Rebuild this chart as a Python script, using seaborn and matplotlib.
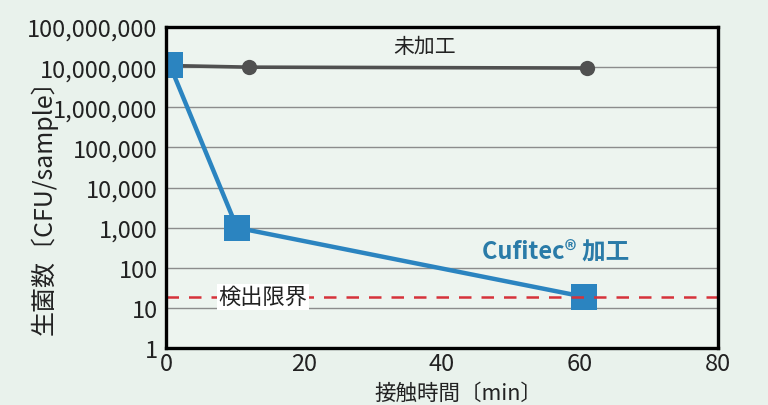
import matplotlib
matplotlib.use("Agg")
import matplotlib.pyplot as plt
import matplotlib.ticker as mticker
import numpy as np
import pandas as pd
import seaborn as sns

# ── データ ─────────────────────────────────────────
tiempo_mikakou = [0, 12, 61]
cfu_mikakou = [1.1e7, 1.0e7, 0.95e7]

tiempo_cufitec = [0.6, 10.3, 60.6]
cfu_cufitec = [1.1e7, 1000, 19]

limite_deteccion = 19
y_ticks = [1, 10, 100, 1000, 10000, 100000, 1000000, 10000000, 100000000]
x_ticks = [0, 20, 40, 60, 80]

# ── スタイル ───────────────────────────────────────
FONDO = "#e9f2ec"
AZUL = "#2b84c0"
AZUL_TEXTO = "#2a7ba8"
GRIS = "#505050"
ROJO = "#d6323a"
TEXTO = "#222222"

sns.set_theme(style="white")
plt.rcParams["font.family"] = ["Noto Sans CJK JP", "DejaVu Sans"]

fig = plt.figure(figsize=(7.68, 4.06), dpi=100, facecolor=FONDO)
ax = fig.add_axes([0.216, 0.140, 0.719, 0.791])
ax.set_facecolor("#edf4ef")

df_m = pd.DataFrame({"t": tiempo_mikakou, "cfu": cfu_mikakou})
df_c = pd.DataFrame({"t": tiempo_cufitec, "cfu": cfu_cufitec})

for y in y_ticks[1:-1]:
    ax.axhline(y, color="#8c8c8c", lw=1.0, zorder=1)

sns.lineplot(data=df_m, x="t", y="cfu", ax=ax, color=GRIS, lw=2.6,
             marker="o", markersize=11, markeredgewidth=0, zorder=3)
sns.lineplot(data=df_c, x="t", y="cfu", ax=ax, color=AZUL, lw=3.2,
             marker="s", markersize=19, markeredgewidth=0, zorder=4)

ax.axhline(limite_deteccion, color=ROJO, lw=1.8, ls=(0, (5, 4)), zorder=5)

ax.set_yscale("log")
ax.set_ylim(1, 1e8)
ax.set_xlim(0, 80)
ax.set_yticks(y_ticks)
ax.yaxis.set_major_formatter(mticker.FuncFormatter(lambda v, _: f"{int(round(v)):,}"))
ax.yaxis.set_minor_locator(mticker.NullLocator())
ax.set_xticks(x_ticks)
ax.tick_params(axis="y", length=0, labelsize=17, pad=6, colors=TEXTO)
ax.tick_params(axis="x", direction="in", length=8, width=2, color="black",
               labelsize=17, pad=3, labelcolor=TEXTO)

for s in ax.spines.values():
    s.set_color("black")
    s.set_linewidth(2.4)
    s.set_zorder(6)

ax.set_xlabel("接触時間〔min〕", fontsize=15.5, color=TEXTO)
ax.xaxis.set_label_coords(0.53, -0.105)
ax.set_ylabel("生菌数〔CFU/sample〕", fontsize=18, color=TEXTO)
ax.yaxis.set_label_coords(-0.196, 0.46)

ax.text(37.5, 3.4e7, "未加工", fontsize=15, ha="center", va="center", color=TEXTO)
ax.text(56.5, 250, "Cufitec® 加工", fontsize=17, fontweight="bold",
        ha="center", va="center", color=AZUL_TEXTO)
ax.text(7.6, limite_deteccion, "検出限界", fontsize=16, ha="left", va="center",
        color=TEXTO, zorder=7,
        bbox=dict(facecolor="white", edgecolor="none", pad=1.0))

fig.savefig("out.png", dpi=100, facecolor=FONDO)
